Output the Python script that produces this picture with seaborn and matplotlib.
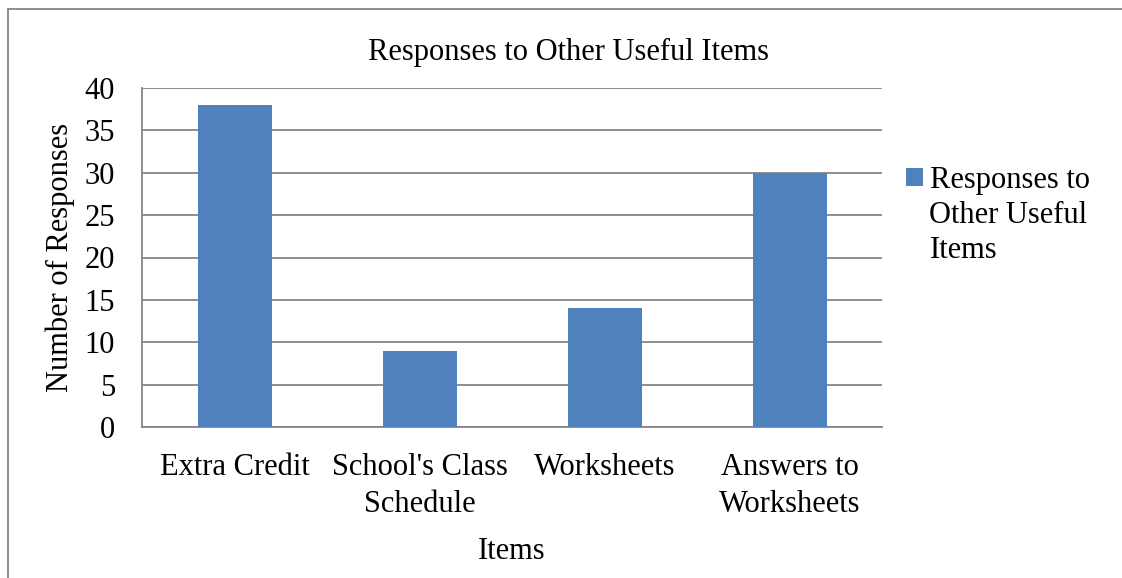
import numpy as np
import pandas as pd
import matplotlib
matplotlib.use('Agg')
import matplotlib.pyplot as plt
import seaborn as sns
from matplotlib.lines import Line2D

# data
items = ["Extra Credit", "School's Class\nSchedule", "Worksheets", "Answers to\nWorksheets"]
responses = [38, 9, 14, 30]
series_name = "Responses to\nOther Useful\nItems"
y_ticks = [0, 5, 10, 15, 20, 25, 30, 35, 40]

df = pd.DataFrame({"item": items, "count": responses})

sns.set_style("white")
plt.rcParams['font.family'] = ['Liberation Serif', 'DejaVu Serif']
plt.rcParams['text.color'] = 'black'
plt.rcParams['axes.labelcolor'] = 'black'

W, H = 1122, 578
FS = 22
fig = plt.figure(figsize=(W / 100, H / 100), dpi=100)
ax = fig.add_axes([142 / W, 1 - 427 / H, 740 / W, 339 / H])

grid_col = '#868686'
bar_col = '#4F81BD'

sns.barplot(data=df, x="item", y="count", color=bar_col, width=0.4,
            saturation=1, linewidth=0, label=series_name, ax=ax, zorder=3)

ax.set_xlim(-0.5, len(items) - 0.5)
ax.set_ylim(0, 40)
ax.set_yticks(y_ticks)
ax.yaxis.grid(True, color=grid_col, linewidth=1.3, zorder=0)
ax.set_axisbelow(True)

for s in ['top', 'right']:
    ax.spines[s].set_visible(False)
for s in ['left', 'bottom']:
    ax.spines[s].set_color(grid_col)
    ax.spines[s].set_linewidth(1.3)

ax.tick_params(axis='y', length=6.5, width=1.3, color=grid_col, labelcolor='black',
               labelsize=FS, pad=13)
ax.tick_params(axis='x', which='major', length=0, labelcolor='black', labelsize=FS, pad=19)
ax.set_xticks(np.arange(-0.5, len(items), 1.0), minor=True)
ax.tick_params(axis='x', which='minor', length=6.5, width=1.3, color=grid_col)
for lab in ax.get_xticklabels():
    lab.set_linespacing(1.33)

ax.set_xlabel("Items", fontsize=FS, labelpad=13)
ax.set_ylabel("Number of Responses", fontsize=FS, labelpad=7)

fig.text(569 / W, 1 - 60 / H, "Responses to Other Useful Items", fontsize=FS,
         ha='center', va='baseline')

# legend: square sits beside the first line of the series name
name_lines = series_name.split("\n")
handles, _ = ax.get_legend_handles_labels()
leg = ax.legend(handles[:1], [name_lines[0]], loc='upper left',
                bbox_to_anchor=(906 / W, 1 - 166 / H),
                bbox_transform=fig.transFigure, frameon=False, fontsize=FS,
                handlelength=0.55, handleheight=0.55, handletextpad=0.25,
                borderpad=0, borderaxespad=0)
fig.canvas.draw()
txt = leg.get_texts()[0]
x_px, base_px = txt.get_transform().transform((0, 0))
for k, line in enumerate(name_lines[1:], start=1):
    fig.text((x_px - 1) / W, (base_px - 35 * k) / H, line, fontsize=FS,
             ha='left', va='baseline')

# chart-area border (left and top only visible)
fig.add_artist(Line2D([8 / W, 8 / W], [0, 1 - 9 / H], transform=fig.transFigure,
                      color=grid_col, linewidth=1.3))
fig.add_artist(Line2D([8 / W, 1], [1 - 9 / H, 1 - 9 / H], transform=fig.transFigure,
                      color=grid_col, linewidth=1.3))

fig.savefig("out.png", dpi=100)
